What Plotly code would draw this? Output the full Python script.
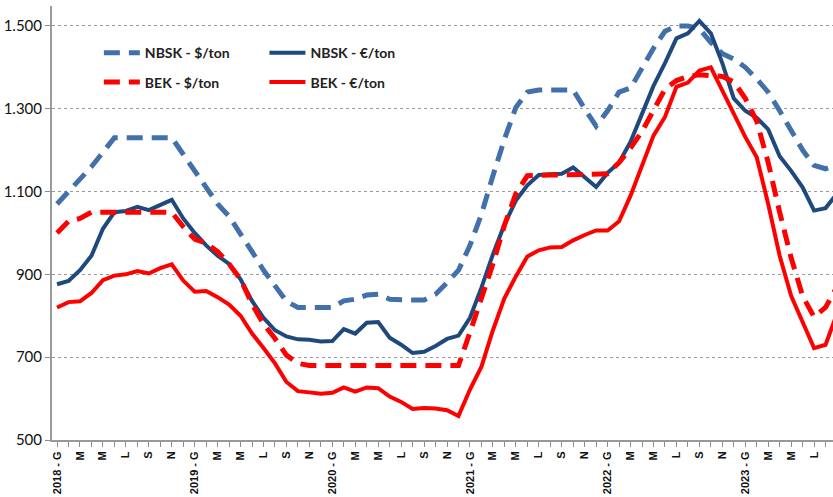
import plotly.graph_objects as go

# Monthly pulp prices, Jan 2018 - Sep 2023
months = list(range(69))  # month index, 0 = Jan 2018

nbsk_usd = [1070, 1100, 1130, 1160, 1195, 1230, 1230, 1230, 1230, 1230, 1230, 1190,
            1150, 1110, 1070, 1040, 1000, 955, 910, 870, 835, 820, 820, 820,
            820, 836, 840, 850, 852, 840, 838, 838, 838, 852, 880, 910,
            970, 1045, 1138, 1226, 1303, 1340, 1345, 1345, 1345, 1345, 1300, 1258,
            1295, 1340, 1350, 1400, 1446, 1487, 1500, 1500, 1493, 1460, 1433, 1420,
            1400, 1372, 1340, 1295, 1245, 1200, 1163, 1155, 1165]

nbsk_eur = [876, 884, 910, 945, 1010, 1050, 1053, 1063, 1055, 1068, 1080, 1035,
            1000, 970, 945, 925, 888, 836, 795, 765, 750, 743, 742, 738,
            739, 768, 757, 783, 785, 747, 730, 710, 713, 727, 744, 752,
            795, 868, 948, 1020, 1078, 1115, 1140, 1142, 1143, 1158, 1135, 1111,
            1145, 1170, 1220, 1285, 1355, 1410, 1470, 1482, 1512, 1482, 1410, 1325,
            1295, 1278, 1250, 1185, 1150, 1110, 1054, 1060, 1095]

bek_usd = [1000, 1028, 1035, 1050, 1050, 1050, 1050, 1050, 1050, 1050, 1050, 1015,
           985, 975, 955, 925, 888, 828, 780, 745, 705, 685, 680, 680,
           680, 680, 680, 680, 680, 680, 680, 680, 680, 680, 680, 680,
           760, 840, 925, 1018, 1095, 1138, 1140, 1140, 1140, 1140, 1140, 1140,
           1143, 1170, 1205, 1245, 1295, 1347, 1368, 1378, 1382, 1380, 1378, 1365,
           1325, 1270, 1170, 1050, 940, 848, 797, 820, 870]

bek_eur = [820, 833, 835, 855, 886, 897, 900, 908, 902, 915, 924, 885,
           858, 860, 845, 827, 800, 757, 722, 685, 640, 618, 615, 612,
           614, 627, 617, 627, 625, 605, 592, 575, 577, 576, 572, 558,
           622, 677, 765, 842, 895, 943, 958, 965, 966, 982, 995, 1006,
           1006, 1028, 1090, 1160, 1235, 1280, 1353, 1363, 1392, 1400, 1345, 1292,
           1232, 1183, 1070, 945, 848, 785, 722, 730, 805]

years = ["2018", "2019", "2020", "2021", "2022", "2023"]
month_letters = ["G", "M", "M", "L", "S", "N"]  # gen, mar, mag, lug, set, nov

tick_vals = list(range(0, 69, 2))
tick_text = []
for v in tick_vals:
    yi, k = divmod(v, 12)
    letter = month_letters[k // 2]
    tick_text.append(f"{years[yi]} - {letter}" if k == 0 else letter)

STEEL = "#4270AB"
NAVY = "#1F497D"
RED = "#FF0000"
DASH = "16px,9px"

fig = go.Figure()
fig.add_trace(go.Scatter(x=months, y=nbsk_usd, mode="lines", name="NBSK - $/ton",
                         line=dict(color=STEEL, width=5, dash=DASH),
                         legend="legend", legendgroup="a"))
fig.add_trace(go.Scatter(x=months, y=nbsk_eur, mode="lines", name="NBSK - €/ton",
                         line=dict(color=NAVY, width=4),
                         legend="legend2", legendgroup="c"))
fig.add_trace(go.Scatter(x=months, y=bek_usd, mode="lines", name="BEK - $/ton",
                         line=dict(color=RED, width=5, dash=DASH),
                         legend="legend", legendgroup="b"))
fig.add_trace(go.Scatter(x=months, y=bek_eur, mode="lines", name="BEK - €/ton",
                         line=dict(color=RED, width=4),
                         legend="legend2", legendgroup="d"))

legend_font = dict(family="Lato", size=14, color="#222222", weight="bold")
common_legend = dict(bgcolor="rgba(0,0,0,0)", borderwidth=0, font=legend_font,
                     traceorder="grouped", tracegroupgap=8, itemwidth=36,
                     xanchor="left", yanchor="top")

fig.update_layout(
    width=833, height=497,
    margin=dict(l=52, r=0, t=6, b=57),
    paper_bgcolor="white", plot_bgcolor="white",
    separators=",.",
    legend=dict(x=0.06, y=0.928, **common_legend),
    legend2=dict(x=0.272, y=0.928, **common_legend),
    xaxis=dict(
        range=[-0.44, 67.65], tickmode="array", tickvals=tick_vals, ticktext=tick_text,
        tickangle=-90, ticks="outside", ticklen=5, tickcolor="#8c8c8c", tickwidth=1,
        minor=dict(dtick=1, tick0=0, ticks="outside", ticklen=5, tickcolor="#8c8c8c"),
        showline=True, linecolor="#9a9a9a", linewidth=2, showgrid=False, zeroline=False,
        tickfont=dict(family="Liberation Sans", size=11, color="#111111", weight="bold"),
    ),
    yaxis=dict(
        range=[500, 1548], tickvals=[500, 700, 900, 1100, 1300, 1500], tickformat=",d",
        ticks="outside", ticklen=5, tickcolor="#8c8c8c",
        showline=True, linecolor="#9a9a9a", linewidth=2,
        showgrid=True, gridcolor="#9a9a9a", griddash="dot", gridwidth=1, zeroline=False,
        tickfont=dict(family="Lato", size=15, color="#111111"),
    ),
)

fig.write_html("out.html")
